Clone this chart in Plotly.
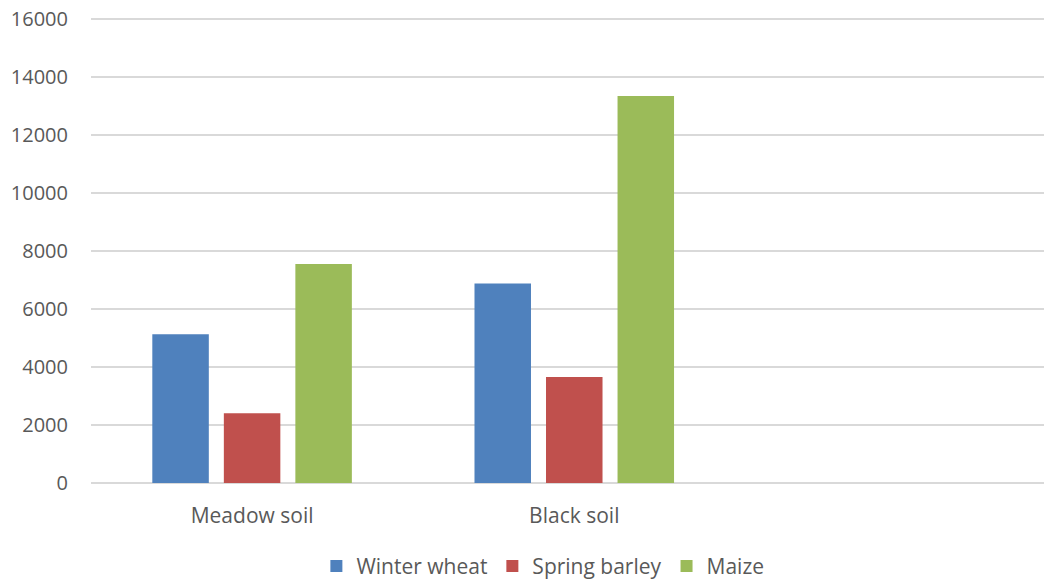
import plotly.graph_objects as go

categories = ["Meadow soil", "Black soil"]
winter_wheat = [5130, 6890]
spring_barley = [2410, 3655]
maize = [7560, 13360]
y_ticks = [0, 2000, 4000, 6000, 8000, 10000, 12000, 14000, 16000]
y_tick_labels = ["0", "2000", "4000", "6000", "8000", "10000", "12000", "14000", "16000"]

series = [
    ("Winter wheat", winter_wheat, "#4F81BD"),
    ("Spring barley", spring_barley, "#C0504D"),
    ("Maize", maize, "#9BBB59"),
]

fig = go.Figure()
for name, vals, col in series:
    fig.add_trace(go.Bar(name=name, x=categories, y=vals, marker_color=col,
                         marker_line_width=0))

font_family = "Open Sans"
fig.update_layout(
    width=1044, height=579,
    margin=dict(l=91, r=0, t=17.5, b=96, autoexpand=False),
    paper_bgcolor="white", plot_bgcolor="white",
    barmode="group", bargap=0.334, bargroupgap=0.21,
    font=dict(family=font_family, size=20, color="#595959"),
    showlegend=True,
    legend=dict(orientation="h", x=0.52, xanchor="center", y=0.022, yanchor="middle",
                xref="container", yref="container", font=dict(size=21, color="#595959"),
                itemwidth=30, tracegroupgap=0),
)
fig.update_xaxes(range=[-0.5, 2.458], showgrid=False, zeroline=False, showline=False,
                 ticks="", ticklabelstandoff=18, tickfont=dict(size=21, color="#595959"),
                 automargin=False)
fig.update_yaxes(range=[0, 16050], tickvals=y_ticks, ticktext=y_tick_labels,
                 showgrid=True, gridcolor="#d9d9d9",
                 gridwidth=1.5, zeroline=True, zerolinecolor="#d9d9d9", zerolinewidth=1.5,
                 showline=False, ticks="", ticklabelstandoff=22,
                 tickfont=dict(size=20, color="#595959"), automargin=False)

fig.write_html("out.html", config={"displayModeBar": False},
               post_script="document.body.style.margin='0';document.body.style.overflow='hidden';")
